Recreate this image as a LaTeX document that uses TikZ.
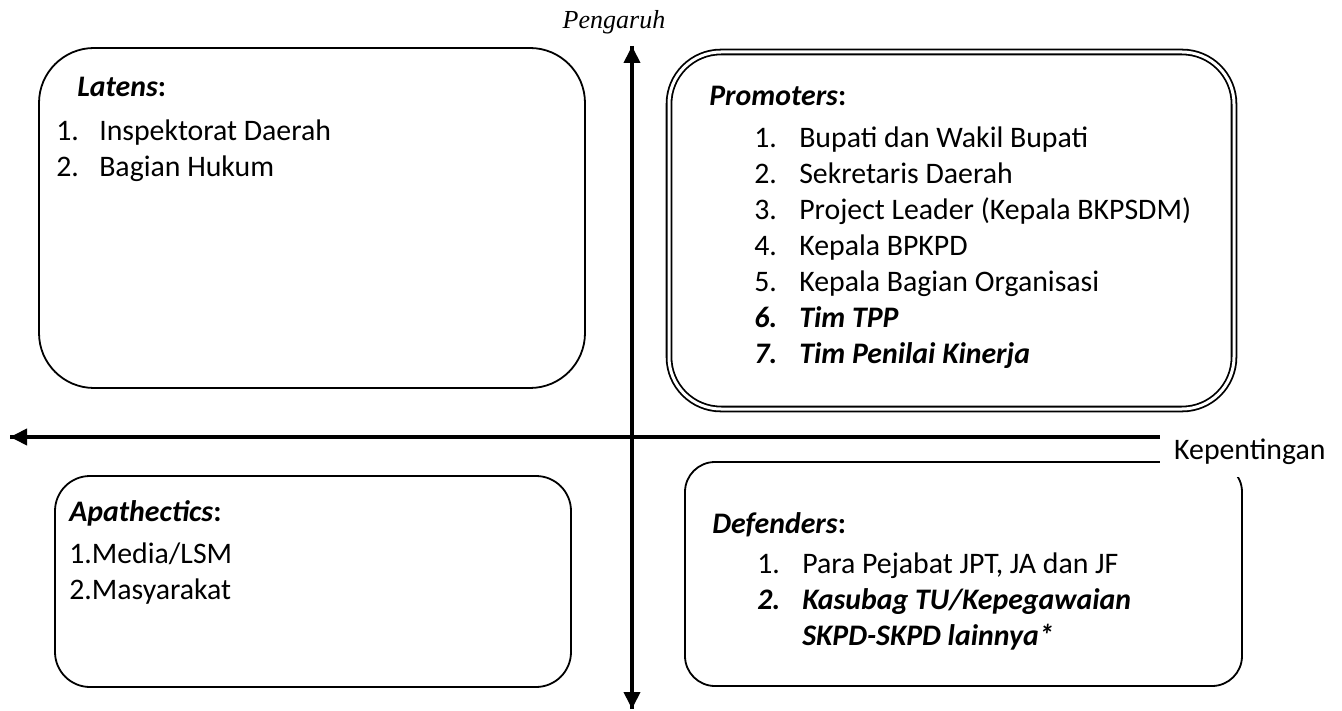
\documentclass[tikz,border=0pt]{standalone}
\usepackage{fontspec}
\setmainfont{Carlito}
\newfontfamily\timesfont{Liberation Serif}
\usetikzlibrary{arrows.meta, positioning}

\begin{document}
\begin{tikzpicture}[x=1pt, y=-1pt,
        box/.style={draw, line width=1.8pt, rounded corners=#1, inner sep=0pt},
        box/.default=50pt,
        dbox/.style={draw, line width=1.8pt, double, double distance=3pt, rounded corners=52pt, inner sep=0pt},
        txt/.style={inner sep=0pt, anchor=north west, align=left, font=\fontsize{29.8}{36}\selectfont},
        arrow/.style={-{Triangle[length=17pt, width=16pt]}, line width=3.8pt},
        node distance=0pt
    ]
        \useasboundingbox (0,0) rectangle (1342,711);

        % Quadrant boxes
        \node[box=55pt, minimum width=546pt, minimum height=340pt] (latens) at (312,218) {};
        \node[dbox, minimum width=565pt, minimum height=357pt] (promoters) at (951.5,230.5) {};
        \node[box=35pt, minimum width=516pt, minimum height=211pt] (apathetics) at (313,581.5) {};
        \node[box=30pt, minimum width=557pt, minimum height=224pt] (defenders) at (963.5,574) {};

        % Latens
        \node[txt, below right=30pt and 39pt of latens.north west] (ltitle) {\textbf{\textit{Latens}:}};
        \node[txt, below right=38pt and -21pt of ltitle.north west] (llist) {%
            \begin{tabular}{@{}p{43pt}@{}l@{}}
                1. & Inspektorat Daerah\\
                2. & Bagian Hukum
            \end{tabular}};

        % Promoters
        \node[txt, below right=35pt and 41pt of promoters.north west] (ptitle) {\textbf{\textit{Promoters}:}};
        \node[txt, below right=36pt and 45pt of ptitle.north west] (plist) {%
            \begin{tabular}{@{}p{45pt}@{}l@{}}
                1. & Bupati dan Wakil Bupati\\
                2. & Sekretaris Daerah\\
                3. & Project Leader (Kepala BKPSDM)\\
                4. & Kepala BPKPD\\
                5. & Kepala Bagian Organisasi\\
                \textbf{\textit{6.}} & \textbf{\textit{Tim TPP}}\\
                \textbf{\textit{7.}} & \textbf{\textit{Tim Penilai Kinerja}}
            \end{tabular}};

        % Apathectics
        \node[txt, below right=25pt and 15pt of apathetics.north west] (atitle) {\textbf{\textit{Apathectics}:}};
        \node[txt, below right=38pt and 0pt of atitle.north west] (alist) {%
            \begin{tabular}{@{}l@{}}
                1.Media/LSM\\
                2.Masyarakat
            \end{tabular}};

        % Defenders
        \node[txt, below right=51pt and 28pt of defenders.north west] (dtitle) {\textbf{\textit{Defenders}:}};
        \node[txt, below right=36pt and 45pt of dtitle.north west] (dlist) {%
            \begin{tabular}{@{}p{45pt}@{}l@{}}
                1. & Para Pejabat JPT, JA dan JF\\
                \textbf{\textit{2.}} & \textbf{\textit{Kasubag TU/Kepegawaian}}\\
                 & \textbf{\textit{SKPD-SKPD lainnya*}}
            \end{tabular}};

        % Axes
        \coordinate (hleft) at (10,437);
        \coordinate (hright) at (1277,437);
        \coordinate (vtop) at (632,46);
        \coordinate (vbot) at (632,709);
        \draw[arrow] (vtop) -- (vbot);
        \draw[arrow] (vbot) -- (vtop);
        \draw[arrow] (hright) -- (hleft);
        \draw[arrow] (hleft) -- (hright);

        % Axis labels
        \node[inner sep=0pt, font=\timesfont\itshape\fontsize{26}{30}\selectfont] (pengaruh) at (614,22) {Pengaruh};
        \node[fill=white, inner sep=6pt, minimum height=50pt, anchor=west, font=\fontsize{29.8}{36}\selectfont] (kepentingan) at (1160,452) {\hspace{8pt}Kepentingan};
    \end{tikzpicture}
\end{document}
